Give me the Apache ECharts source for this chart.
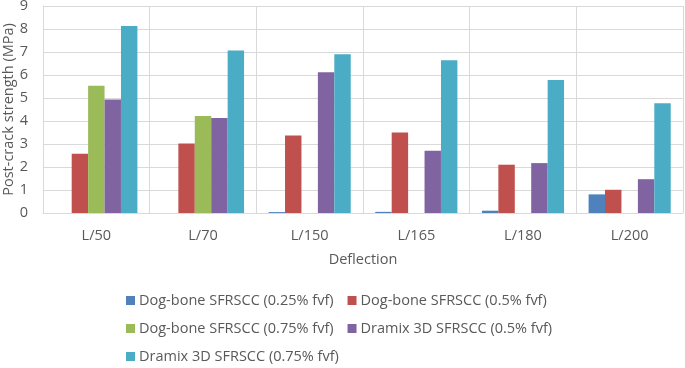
<!DOCTYPE html>
<html>
<head>
<meta charset="utf-8">
<script src="https://cdn.jsdelivr.net/npm/echarts@6/dist/echarts.min.js"></script>
<style>
  html, body { margin: 0; padding: 0; background: #fff; }
  #chart { width: 685px; height: 368px; }
</style>
</head>
<body>
<div id="chart"></div>
<script>
// data
var categories = ['L/50', 'L/70', 'L/150', 'L/165', 'L/180', 'L/200'];
var seriesNames = [
    'Dog-bone SFRSCC (0.25% fvf)',
    'Dog-bone SFRSCC (0.5% fvf)',
    'Dog-bone SFRSCC (0.75% fvf)',
    'Dramix 3D SFRSCC (0.5% fvf)',
    'Dramix 3D SFRSCC (0.75% fvf)'
];
var dogbone025 = [0, 0, 0.04, 0.05, 0.1, 0.81];
var dogbone05 = [2.58, 3.02, 3.37, 3.5, 2.1, 1.01];
var dogbone075 = [5.53, 4.22, 0, 0, 0, 0];
var dramix05 = [4.93, 4.13, 6.12, 2.71, 2.17, 1.47];
var dramix075 = [8.13, 7.07, 6.9, 6.64, 5.78, 4.77];
var yTicks = [0, 1, 2, 3, 4, 5, 6, 7, 8, 9];

var colors = ['#4F81BD', '#C0504D', '#9BBB59', '#8064A2', '#4BACC6'];
var values = [dogbone025, dogbone05, dogbone075, dramix05, dramix075];
var fontFam = '"Open Sans", "Liberation Sans", sans-serif';
var textCol = '#595959';

var myChart = echarts.init(document.getElementById('chart'));

var seriesList = [];
for (var i = 0; i < seriesNames.length; i++) {
    seriesList.push({
        name: seriesNames[i],
        type: 'bar',
        data: values[i],
        barGap: '0%',
        barCategoryGap: '23%',
        itemStyle: { color: colors[i] }
    });
}

function legendBlock(names, left, top) {
    return {
        data: names,
        left: left,
        top: top,
        orient: 'horizontal',
        itemWidth: 9,
        itemHeight: 9,
        itemGap: 14,
        icon: 'rect',
        padding: 0,
        textStyle: { fontFamily: fontFam, fontSize: 14.5, color: textCol, padding: [0, 0, 0, -1] }
    };
}

var option = {
    animation: false,
    textStyle: { fontFamily: fontFam },
    grid: {
        left: 43,
        right: 2,
        top: 6,
        bottom: 155,
        outerBoundsMode: 'none',
        containLabel: false
    },
    legend: [
        legendBlock([seriesNames[0], seriesNames[1]], 126, 293),
        legendBlock([seriesNames[2], seriesNames[3]], 126, 321),
        legendBlock([seriesNames[4]], 126, 349)
    ],
    xAxis: {
        type: 'category',
        data: categories,
        name: 'Deflection',
        nameLocation: 'middle',
        nameGap: 39,
        nameMoveOverlap: false,
        nameTextStyle: { fontSize: 14.5, color: textCol },
        axisLine: { lineStyle: { color: '#d9d9d9', width: 1 } },
        axisTick: { show: false },
        axisLabel: { fontSize: 14.5, color: textCol, margin: 15 },
        splitLine: { show: true, interval: 0, lineStyle: { color: '#d9d9d9' } }
    },
    yAxis: {
        type: 'value',
        min: yTicks[0],
        max: yTicks[yTicks.length - 1],
        interval: 1,
        name: 'Post-crack strength (MPa)',
        nameLocation: 'middle',
        nameGap: 27,
        nameMoveOverlap: false,
        nameTextStyle: { fontSize: 14.5, color: textCol },
        axisLine: { show: true, lineStyle: { color: '#d9d9d9' } },
        axisTick: { show: false },
        axisLabel: { fontSize: 14.5, color: textCol, margin: 15 },
        splitLine: { show: true, lineStyle: { color: '#d9d9d9' } }
    },
    series: seriesList
};

myChart.setOption(option);
</script>
</body>
</html>
